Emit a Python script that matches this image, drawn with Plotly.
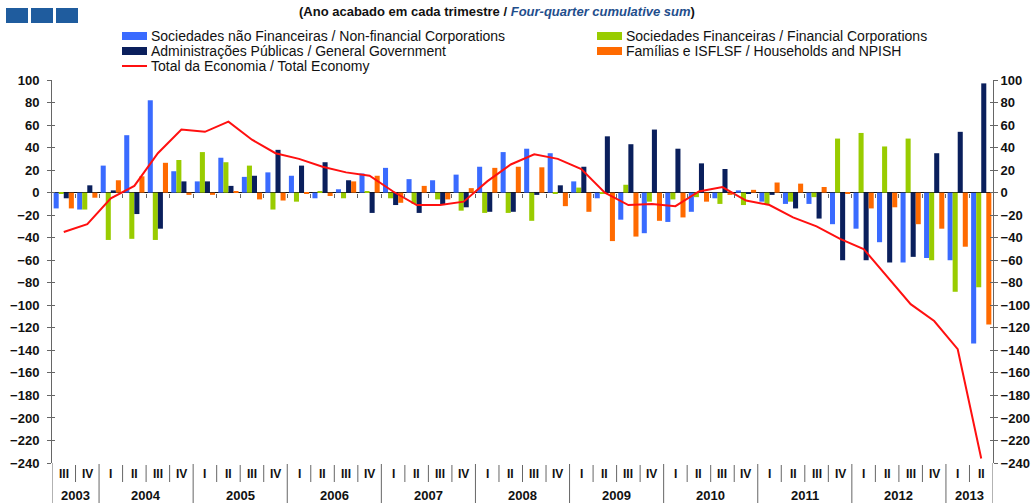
import plotly.graph_objects as go

# ---------------- data ----------------
year_labels = ["2003", "2004", "2005", "2006", "2007", "2008", "2009", "2010", "2011", "2012", "2013"]
quarters_in_year = [["III", "IV"]] + [["I", "II", "III", "IV"]] * 9 + [["I", "II"]]

nonfin = [-14, -15, 24, 51, 82, 19, 10, 31, 14, 18,
          15, -5, 3, 17, 22, 12, 11, 16, 23, 36,
          39, 35, 10, -5, -24, -36, -26, -17, -5, 2,
          -8, -10, -10, -28, -32, -44, -62, -58, -60, -134]
fin = [-1, -15, -42, -41, -42, 29, 36, 27, 24, -15,
       -8, 1.5, -5, 1, -5, -10, -6, -16, -18, -18,
       -25, -1, 4.5, -1, 7, -8, -6, -4, -10, -11,
       -11, -8, -4, 48, 53, 41, 48, -60, -88, -84]
gov = [-5, 6.5, 2, -19, -32, 10, 10, 6, 15, 38,
       24, 27, 11, -18, -11, -18, -11, -13, -17, -17,
       -2, 6.5, 23, 50, 43, 56, 39, 26, 21, -1,
       -2, -14, -23, -60, -60, -62, -57, 35, 54, 97]
households = [-14, -4.5, 11, 14.5, 26.5, -2, -2, 1, -6, -7,
              -1, -3, 10, 15, -9, 6, -6, 4, 22, 23,
              22.5, -12, -17, -43, -39, -25, -22, -8, -2, 2.5,
              9, 8, 5, -1, -14, -13, -28, -32, -48, -117]
total = [-35, -28, -5, 6, 35, 56, 54, 63, 47, 35,
         30, 23, 18, 15, 1, -11, -11, -8, 10, 25,
         34, 30, 21, 0, -11, -10, -12, 1, 5, -7,
         -11, -22, -30, -41, -50, -75, -99, -114, -139, -236]

series_names = [
    "Sociedades não Financeiras / Non-financial Corporations",
    "Sociedades Financeiras / Financial Corporations",
    "Administrações Públicas / General Government",
    "Famílias e ISFLSF / Households and NPISH",
]
total_name = "Total da Economia / Total Economy"
colors = ["#3a6bff", "#99cc00", "#0a1f5c", "#ff6a00"]
line_color = "#ff1010"

y_ticks = list(range(-240, 101, 20))

# ---------------- layout geometry (pixels) ----------------
FW, FH = 1035, 504
L, R, T, B = 52, 993, 80, 463
W, H = R - L, B - T


def px_x(px):
    return (px - L) / W


def px_y(py):
    return (B - py) / H


# categories
cats, quarter_of_cat, year_of_cat = [], [], []
for yl, qs in zip(year_labels, quarters_in_year):
    for q in qs:
        cats.append(f"{yl} {q}")
        quarter_of_cat.append(q)
        year_of_cat.append(yl)
n = len(cats)

fig = go.Figure()
for name, vals, col in zip(series_names, [nonfin, fin, gov, households], colors):
    fig.add_trace(go.Bar(x=cats, y=vals, name=name, marker=dict(color=col, line=dict(width=0)),
                         showlegend=False))
fig.add_trace(go.Scatter(x=cats, y=total, name=total_name, mode="lines",
                         line=dict(color=line_color, width=2), showlegend=False))

# helper traces for secondary axes
fig.add_trace(go.Scatter(x=[0], y=[0], xaxis="x2", yaxis="y", mode="markers",
                         marker=dict(opacity=0), showlegend=False, hoverinfo="skip"))
fig.add_trace(go.Scatter(x=[cats[0]], y=[0], xaxis="x", yaxis="y2", mode="markers",
                         marker=dict(opacity=0), showlegend=False, hoverinfo="skip"))
fig.add_trace(go.Scatter(x=[cats[0]], y=[0], xaxis="x", yaxis="y3", mode="markers",
                         marker=dict(opacity=0), showlegend=False, hoverinfo="skip"))
fig.add_trace(go.Scatter(x=[cats[0]], y=[0], xaxis="x", yaxis="y4", mode="markers",
                         marker=dict(opacity=0), showlegend=False, hoverinfo="skip"))

axis_col = "#666666"
tickfont = dict(family="Arial", size=13, color="#111111", weight="bold")
yrange = [y_ticks[0], y_ticks[-1]]
boundaries = [i + 0.5 for i in range(n - 1)]

fig.update_layout(
    width=FW, height=FH,
    margin=dict(l=L, r=FW - R, t=T, b=FH - B, autoexpand=False),
    paper_bgcolor="white", plot_bgcolor="white",
    barmode="group", bargap=0.14, bargroupgap=0.0,
    showlegend=False,
    xaxis=dict(type="category", range=[-0.5, n - 0.5], showticklabels=False, ticks="",
               showgrid=False, zeroline=False, showline=False, automargin=False),
    xaxis2=dict(overlaying="x", anchor="free", position=(0 - yrange[0]) / (yrange[1] - yrange[0]),
                range=[-0.5, n - 0.5], tickmode="array", tickvals=boundaries, ticks="outside",
                ticklen=4, tickwidth=1, tickcolor=axis_col, showticklabels=False,
                showgrid=False, zeroline=False, showline=False, automargin=False),
    yaxis=dict(range=yrange, tickmode="array", tickvals=y_ticks, ticks="outside", ticklen=4,
               tickcolor=axis_col, showline=True, linecolor=axis_col, linewidth=1,
               tickfont=tickfont, ticklabelstandoff=5, showgrid=False, zeroline=True,
               zerolinecolor="#111111", zerolinewidth=1, automargin=False),
    yaxis2=dict(overlaying="y", side="right", range=yrange, tickmode="array", tickvals=y_ticks,
                ticks="outside", ticklen=4, tickcolor=axis_col, showline=True, linecolor=axis_col,
                linewidth=1, tickfont=tickfont, showgrid=False, zeroline=False, automargin=False),
    yaxis3=dict(overlaying="y", side="left", range=yrange, tickmode="array", tickvals=y_ticks,
                ticks="inside", ticklen=3, tickcolor=axis_col, showticklabels=False,
                showline=False, showgrid=False, zeroline=False, automargin=False),
    yaxis4=dict(overlaying="y", side="right", range=yrange, tickmode="array", tickvals=y_ticks,
                ticks="inside", ticklen=3, tickcolor=axis_col, showticklabels=False,
                showline=False, showgrid=False, zeroline=False, automargin=False),
)

shapes = []
annotations = []

# axis line extensions into label area
for xv in [-0.5, n - 0.5]:
    shapes.append(dict(type="line", xref="x", yref="paper", x0=xv, x1=xv,
                       y0=px_y(503), y1=0, line=dict(color=axis_col, width=1)))

# separators and labels of category axis
year_start = 0
year_bounds = set()
for yl, qs in zip(year_labels, quarters_in_year):
    end = year_start + len(qs) - 1
    year_bounds.add(end + 0.5)
    annotations.append(dict(x=(year_start + end) / 2, y=px_y(495), xref="x", yref="paper",
                            text=yl, showarrow=False, xanchor="center", yanchor="middle",
                            font=dict(family="Arial", size=13, color="#111111", weight="bold")))
    year_start = end + 1

for b in boundaries:
    if b in year_bounds:
        shapes.append(dict(type="line", xref="x", yref="paper", x0=b, x1=b,
                           y0=px_y(503), y1=px_y(464), line=dict(color=axis_col, width=1)))
    else:
        shapes.append(dict(type="line", xref="x", yref="paper", x0=b, x1=b,
                           y0=px_y(482), y1=px_y(465), line=dict(color=axis_col, width=1)))

for i, q in enumerate(quarter_of_cat):
    annotations.append(dict(x=i, y=px_y(474), xref="x", yref="paper", text=q, showarrow=False,
                            xanchor="center", yanchor="middle",
                            font=dict(family="Arial", size=12, color="#111111", weight="bold")))

# header: logo squares
for x0 in [6, 31, 56]:
    shapes.append(dict(type="rect", xref="paper", yref="paper", x0=px_x(x0), x1=px_x(x0 + 22),
                       y0=px_y(23), y1=px_y(8), fillcolor="#1f5c9e", line=dict(width=0)))

annotations.append(dict(
    x=px_x(497), y=px_y(11), xref="paper", yref="paper", showarrow=False,
    xanchor="center", yanchor="middle",
    text="(Ano acabado em cada trimestre / <i><span style='color:#1f4e8c'>Four-quarter cumulative sum</span></i>)",
    font=dict(family="Arial", size=13, color="#111111", weight="bold")))

# manual legend
legend_pos = [(122, 36), (597, 36), (122, 51), (597, 51)]
for (lx, ly), name, col in zip(legend_pos, series_names, colors):
    shapes.append(dict(type="rect", xref="paper", yref="paper", x0=px_x(lx), x1=px_x(lx + 25),
                       y0=px_y(ly + 4), y1=px_y(ly - 4), fillcolor=col, line=dict(width=0)))
    annotations.append(dict(x=px_x(lx + 27), y=px_y(ly), xref="paper", yref="paper", text=name,
                            showarrow=False, xanchor="left", yanchor="middle",
                            font=dict(family="Arial", size=14, color="#111111")))
shapes.append(dict(type="line", xref="paper", yref="paper", x0=px_x(122), x1=px_x(147),
                   y0=px_y(66), y1=px_y(66), line=dict(color=line_color, width=2)))
annotations.append(dict(x=px_x(149), y=px_y(66), xref="paper", yref="paper", text=total_name,
                        showarrow=False, xanchor="left", yanchor="middle",
                        font=dict(family="Arial", size=14, color="#111111")))

fig.update_layout(shapes=shapes, annotations=annotations)
fig.write_html("out.html", config={"displayModeBar": False},
               post_script="document.body.style.margin='0';document.body.style.overflow='hidden';")
